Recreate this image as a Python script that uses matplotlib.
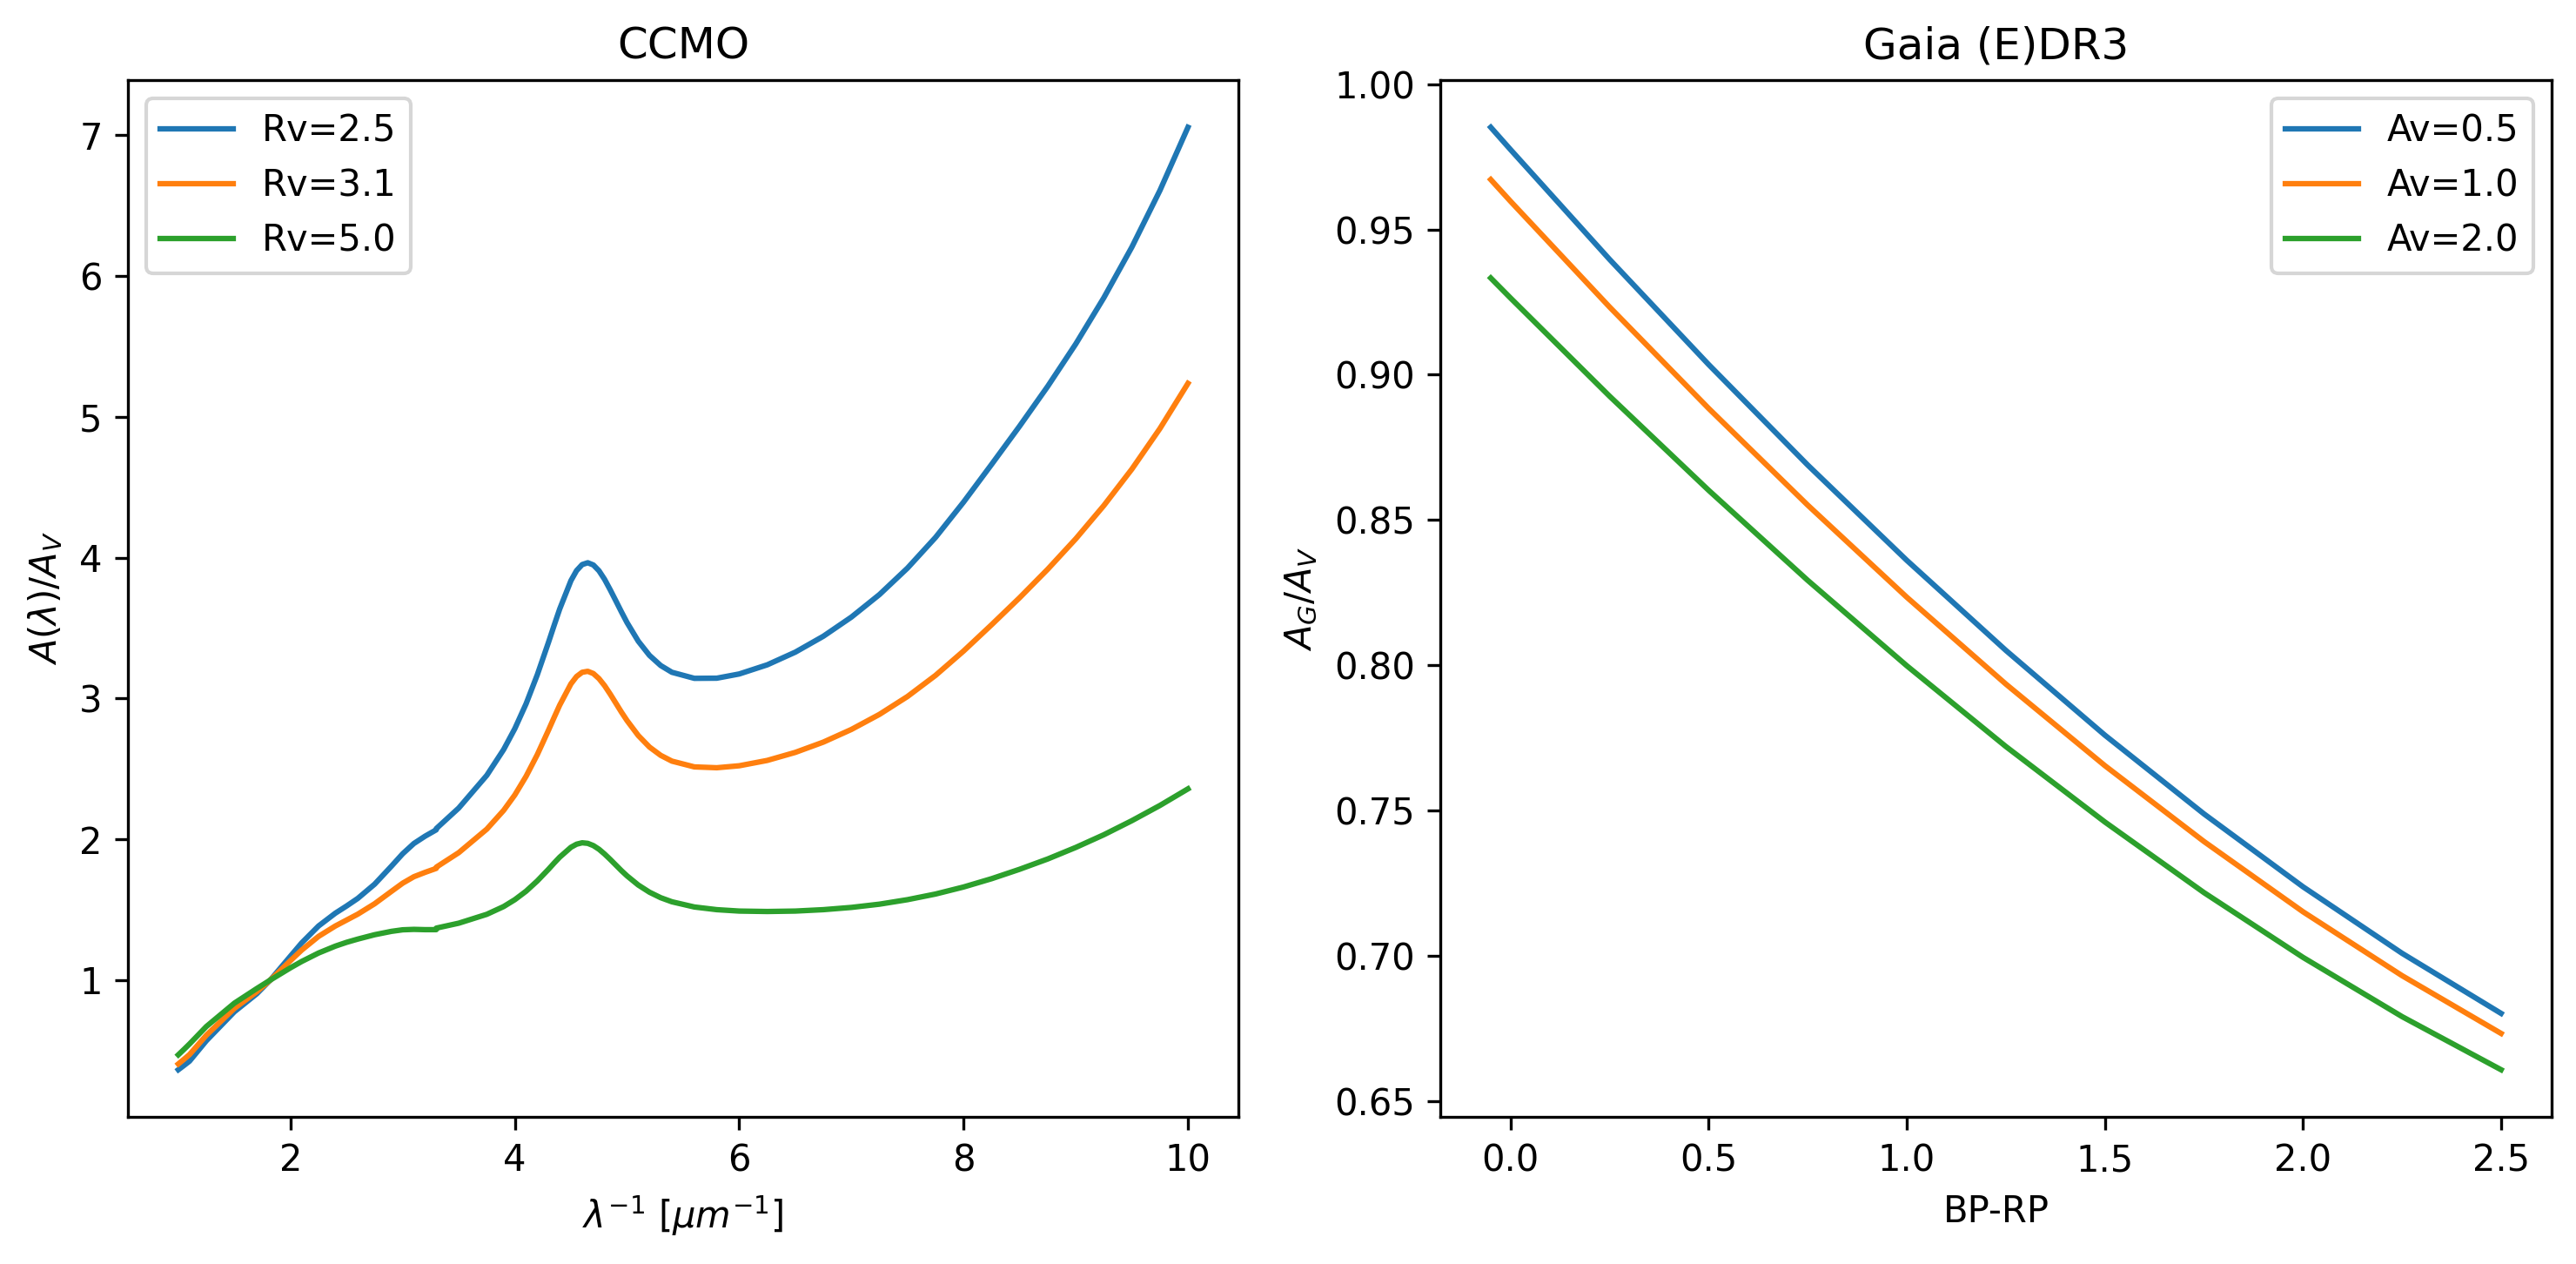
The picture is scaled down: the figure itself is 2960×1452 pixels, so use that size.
#!/usr/bin/env python

import matplotlib
matplotlib.use('Agg')
import matplotlib.pyplot as plt


# CCMO extinction curves, A(lambda)/A_V vs inverse wavelength [1/um]
inv_wl = [1.0, 1.05, 1.1, 1.25, 1.5, 1.7, 1.82, 2.0, 2.1, 2.25, 2.4, 2.5, 2.6,
          2.75, 2.9, 3.0, 3.1, 3.2, 3.299, 3.3, 3.5, 3.75, 3.9, 4.0, 4.1, 4.2,
          4.3, 4.35, 4.4, 4.5, 4.55, 4.6, 4.65, 4.7, 4.75, 4.8, 4.85, 4.9,
          4.95, 5.0, 5.1, 5.2, 5.3, 5.4, 5.6, 5.8, 6.0, 6.25, 6.5, 6.75, 7.0,
          7.25, 7.5, 7.75, 8.0, 8.25, 8.5, 8.75, 9.0, 9.25, 9.5, 9.75, 10.0]
ext_rv25 = [0.363, 0.393, 0.424, 0.569, 0.775, 0.903, 1.000, 1.170, 1.264, 1.384,
            1.475, 1.526, 1.580, 1.681, 1.809, 1.897, 1.970, 2.022, 2.067, 2.076,
            2.222, 2.454, 2.637, 2.786, 2.962, 3.168, 3.399, 3.519, 3.636, 3.837,
            3.908, 3.951, 3.964, 3.948, 3.907, 3.846, 3.772, 3.694, 3.615, 3.539,
            3.407, 3.306, 3.234, 3.186, 3.143, 3.144, 3.174, 3.239, 3.329, 3.442,
            3.578, 3.738, 3.926, 4.144, 4.395, 4.663, 4.935, 5.217, 5.518, 5.846,
            6.206, 6.608, 7.057]
ext_rv31 = [0.404, 0.437, 0.471, 0.608, 0.799, 0.917, 1.000, 1.138, 1.213, 1.310,
            1.384, 1.426, 1.468, 1.542, 1.630, 1.688, 1.734, 1.765, 1.793, 1.802,
            1.905, 2.072, 2.205, 2.315, 2.447, 2.601, 2.775, 2.865, 2.953, 3.104,
            3.156, 3.186, 3.193, 3.177, 3.141, 3.091, 3.031, 2.967, 2.903, 2.843,
            2.737, 2.655, 2.596, 2.555, 2.514, 2.508, 2.522, 2.560, 2.617, 2.690,
            2.780, 2.887, 3.014, 3.164, 3.337, 3.524, 3.716, 3.918, 4.134, 4.370,
            4.629, 4.917, 5.238]
ext_rv50 = [0.469, 0.507, 0.546, 0.670, 0.836, 0.940, 1.000, 1.087, 1.132, 1.192,
            1.241, 1.268, 1.291, 1.322, 1.346, 1.357, 1.360, 1.358, 1.358, 1.369,
            1.404, 1.467, 1.522, 1.571, 1.631, 1.704, 1.787, 1.831, 1.873, 1.943,
            1.965, 1.975, 1.971, 1.955, 1.929, 1.895, 1.857, 1.817, 1.777, 1.740,
            1.675, 1.624, 1.585, 1.556, 1.519, 1.500, 1.490, 1.487, 1.490, 1.500,
            1.516, 1.539, 1.571, 1.611, 1.661, 1.720, 1.787, 1.860, 1.942, 2.032,
            2.132, 2.240, 2.358]
rv_labels = ['Rv=2.5', 'Rv=3.1', 'Rv=5.0']

# Gaia (E)DR3 G-band extinction coefficient vs BP-RP colour
bp_rp = [-0.05, 0.0, 0.25, 0.5, 0.75, 1.0, 1.25, 1.5, 1.75, 2.0, 2.25, 2.5]
ag_av05 = [0.9852, 0.9775, 0.9397, 0.9035, 0.8689, 0.8361, 0.8051, 0.7759,
           0.7488, 0.7237, 0.7008, 0.6801]
ag_av10 = [0.9672, 0.9597, 0.9233, 0.8884, 0.8551, 0.8234, 0.7935, 0.7654,
           0.7393, 0.7151, 0.6931, 0.6732]
ag_av20 = [0.9333, 0.9264, 0.8926, 0.8602, 0.8292, 0.7998, 0.7720, 0.7460,
           0.7217, 0.6994, 0.6790, 0.6607]
av_labels = ['Av=0.5', 'Av=1.0', 'Av=2.0']


fig, (ax1, ax2) = plt.subplots(1, 2, figsize=(2961 / 300, 1452 / 300), dpi=300)
# put axes where they sit in the reference
ax1.set_position([0.0496, 0.1164, 0.4806 - 0.0496, 0.9366 - 0.1164])
ax2.set_position([0.5589, 0.1164, 0.9902 - 0.5589, 0.9366 - 0.1164])

for ext, lab in zip([ext_rv25, ext_rv31, ext_rv50], rv_labels):
    ax1.plot(inv_wl, ext, label=lab)
ax1.set_title('CCMO')
ax1.set_xlabel(r'$\lambda^{-1}$ [$\mu m^{-1}$]')
ax1.set_ylabel(r'$A(\lambda)/A_V$')
ax1.legend(loc='upper left')

for ag, lab in zip([ag_av05, ag_av10, ag_av20], av_labels):
    ax2.plot(bp_rp, ag, label=lab)
ax2.set_title('Gaia (E)DR3')
ax2.set_xlabel('BP-RP')
ax2.set_ylabel(r'$A_G/A_V$')
ax2.legend(loc='upper right')

fig.savefig('out.png', dpi=300)
plt.close(fig)
